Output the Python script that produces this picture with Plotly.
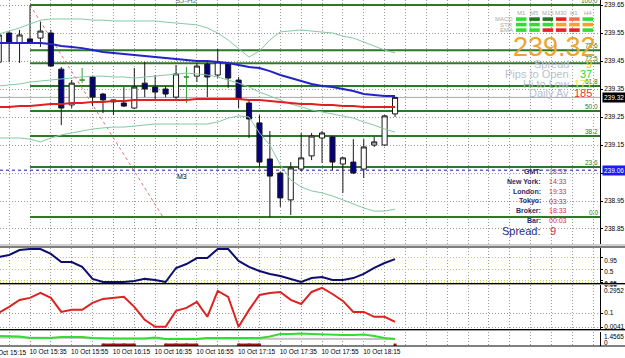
import pandas as pd
import plotly.graph_objects as go
from plotly.subplots import make_subplots

DAY = "2007-10-10 "

# ---------------- data ----------------
bar_times = ["15:20", "15:25", "15:30", "15:35", "15:40", "15:45", "15:50", "15:55",
             "16:00", "16:05", "16:10", "16:15", "16:20", "16:25", "16:30", "16:35",
             "16:40", "16:45", "16:50", "16:55", "17:00", "17:05", "17:10", "17:15",
             "17:20", "17:25", "17:30", "17:35", "17:40", "17:45", "17:50", "17:55",
             "18:00", "18:05", "18:10", "18:15", "18:20", "18:25", "18:30"]

open_ = [239.446, 239.550, 239.514, 239.529, 239.532, 239.550, 239.421, 239.293, 239.382, 239.393,
         239.332, 239.304, 239.300, 239.282, 239.371, 239.357, 239.350, 239.321, 239.393, 239.396,
         239.439, 239.400, 239.439, 239.382, 239.300, 239.229, 239.100, 239.050, 238.954, 239.064,
         239.111, 239.175, 239.179, 239.082, 239.089, 239.064, 239.150, 239.150, 239.261]
high = [239.550, 239.557, 239.561, 239.650, 239.589, 239.561, 239.429, 239.382, 239.425, 239.396,
        239.336, 239.311, 239.357, 239.425, 239.446, 239.400, 239.361, 239.436, 239.429, 239.443,
        239.446, 239.493, 239.443, 239.393, 239.311, 239.257, 239.200, 239.054, 239.089, 239.193,
        239.193, 239.200, 239.182, 239.107, 239.171, 239.171, 239.179, 239.257, 239.320]
low = [239.439, 239.446, 239.443, 239.514, 239.500, 239.429, 239.221, 239.282, 239.371, 239.289,
       239.264, 239.257, 239.286, 239.279, 239.321, 239.311, 239.321, 239.311, 239.300, 239.375,
       239.321, 239.389, 239.354, 239.282, 239.175, 239.071, 238.893, 238.929, 238.900, 239.057,
       239.096, 239.086, 239.061, 238.979, 239.046, 239.032, 239.143, 239.146, 239.250]
close = [239.543, 239.518, 239.543, 239.518, 239.557, 239.432, 239.282, 239.371, 239.382, 239.321,
         239.311, 239.311, 239.289, 239.357, 239.350, 239.339, 239.332, 239.404, 239.393, 239.432,
         239.393, 239.446, 239.389, 239.314, 239.243, 239.089, 239.039, 238.961, 239.068, 239.104,
         239.182, 239.193, 239.089, 239.104, 239.050, 239.143, 239.161, 239.254, 239.320]

ma_blue = [239.514, 239.514, 239.514, 239.514, 239.514, 239.511, 239.504, 239.500, 239.496, 239.489,
           239.482, 239.479, 239.475, 239.471, 239.468, 239.464, 239.461, 239.457, 239.454, 239.450,
           239.450, 239.446, 239.443, 239.436, 239.429, 239.425, 239.414, 239.400, 239.389, 239.379,
           239.368, 239.361, 239.357, 239.350, 239.343, 239.332, 239.329, 239.325, 239.325]
ma_red = [239.286, 239.286, 239.289, 239.289, 239.293, 239.296, 239.296, 239.300, 239.300, 239.304,
          239.304, 239.307, 239.307, 239.311, 239.311, 239.311, 239.311, 239.311, 239.311, 239.314,
          239.314, 239.314, 239.314, 239.314, 239.311, 239.311, 239.307, 239.304, 239.300, 239.296,
          239.296, 239.293, 239.293, 239.289, 239.289, 239.286, 239.286, 239.286, 239.286]
bb_upper = [239.546, 239.557, 239.568, 239.582, 239.596, 239.600, 239.600, 239.600, 239.600, 239.596,
            239.596, 239.593, 239.593, 239.593, 239.593, 239.593, 239.589, 239.586, 239.582, 239.579,
            239.568, 239.550, 239.525, 239.496, 239.464, 239.486, 239.525, 239.554, 239.557, 239.561,
            239.557, 239.554, 239.550, 239.539, 239.532, 239.518, 239.504, 239.489, 239.479]
bb_mid = [239.361, 239.364, 239.368, 239.375, 239.379, 239.382, 239.386, 239.389, 239.393, 239.396,
          239.396, 239.393, 239.393, 239.389, 239.393, 239.396, 239.400, 239.404, 239.407, 239.404,
          239.400, 239.393, 239.382, 239.371, 239.357, 239.339, 239.325, 239.311, 239.296, 239.286,
          239.275, 239.268, 239.261, 239.254, 239.246, 239.232, 239.221, 239.207, 239.196]
bb_lower = [239.175, 239.175, 239.175, 239.171, 239.161, 239.175, 239.186, 239.193, 239.200, 239.207,
            239.211, 239.214, 239.214, 239.218, 239.221, 239.225, 239.225, 239.225, 239.225, 239.225,
            239.225, 239.232, 239.246, 239.254, 239.250, 239.193, 239.150, 239.079, 239.025, 239.000,
            238.986, 238.979, 238.968, 238.954, 238.939, 238.925, 238.914, 238.914, 238.921]

osc_blue = [0.96, 1.04, 1.23, 1.27, 1.27, 1.08, 0.77, 0.77, 0.58, 0.12,
            0.00, 0.00, 0.00, 0.04, 0.12, 0.08, 0.00, 0.54, 0.69, 0.92,
            0.92, 1.27, 1.27, 0.81, 0.58, 0.42, 0.31, 0.23, 0.12, 0.00,
            0.15, 0.19, 0.08, 0.08, 0.15, 0.31, 0.54, 0.73, 0.88]
osc_red = [0.102, 0.144, 0.192, 0.206, 0.240, 0.206, 0.109, 0.123, 0.123, 0.171,
           0.199, 0.206, 0.213, 0.144, 0.054, 0.006, 0.006, 0.116, 0.137, 0.178,
           0.075, 0.254, 0.213, 0.006, 0.123, 0.226, 0.240, 0.247, 0.192, 0.164,
           0.247, 0.275, 0.233, 0.185, 0.109, 0.109, 0.075, 0.075, 0.040]
osc_green = [1.04, 1.04, 0.99, 0.83, 0.83, 0.83, 0.94, 0.94, 0.94, 0.83,
             0.78, 0.78, 0.78, 0.78, 0.78, 0.88, 0.73, 0.73, 0.73, 0.73,
             0.83, 0.83, 0.83, 0.83, 0.83, 0.83, 0.99, 1.25, 1.25, 1.30,
             1.25, 1.20, 1.14, 1.14, 1.14, 1.20, 1.04, 0.83, 0.73]
osc_gray = [0.88, 0.88, 0.88, 0.83, 0.83, 0.83, 0.83, 0.83, 0.83, 0.83,
            0.78, 0.78, 0.78, 0.78, 0.78, 0.78, 0.73, 0.73, 0.73, 0.73,
            0.78, 0.78, 0.78, 0.78, 0.78, 0.78, 0.73, 0.73, 0.73, 0.73,
            0.73, 0.73, 0.73, 0.73, 0.73, 0.73, 0.73, 0.73, 0.73]
osc_flag = [None, None, None, None, None, None, None, None, None, None,
            0.1, 0.1, 0.1, 0.1, None, None, 0.1, 0.1, 0.1, 0.1,
            None, None, None, 0.1, 0.1, 0.1, None, None, None, None,
            None, None, None, None, None, None, None, None, 0.1]

fib_low, fib_high = 238.893, 239.650
fib_levels = [0.0, 23.6, 38.2, 50.0, 61.8, 72.5, 78.6, 100.0]
fib_start, fib_trend_end = "15:35", "16:38:46"
bid_price = 239.32
marker_price, marker_label = 239.06, "M3"
y_ticks_main = [238.85, 238.95, 239.05, 239.15, 239.25, 239.35, 239.45, 239.55, 239.65]
p2_ticks, p2_text = [0.95, 0.5, 0.05, 0.0], ["0.95", "0.5", "0.05", "0.00"]
p3_ticks, p3_text = [0.1, 0.0041], ["0.1", "0.0041"]
p3_max_label, p4_max_label, p4_min_label = "0.2952", "1.4565", "0"

timeframes = ["M1", "M5", "M15", "M30", "H1", "H4"]
signal_rows = ["MACD", "STR", "EMA"]
LIME, DKG, RED, SAL, ORG = "#2ee02e", "#1f7a1f", "#e52222", "#f07050", "#f2a428"
signal_colors = [[LIME, DKG, DKG, RED, SAL, LIME],
                 [LIME, LIME, LIME, ORG, ORG, ORG],
                 [LIME, LIME, RED, RED, RED, LIME]]
big_price = "239.32"
stats_labels = ["Spread", "Pips to Open", "Hi to Low", "Daily Av"]
stats_values = ["9", "37", "171", "185"]
stats_colors = ["#e6c81e", "#2ed62e", "#e8e03a", "#e0401e"]
clock_labels = ["GMT:", "New York:", "London:", "Tokyo:", "Broker:", "Bar:"]
clock_values = ["18:33", "14:33", "19:33", "03:33", "18:33", "00:03"]
spread_label, spread_value = "Spread:", "9"
chart_title = "SJ-H2"

# ---------------- layout helpers ----------------
PW, PH = 600, 346          # plot area in px
FONT = "Liberation Sans"
AX = 6.5                   # axis label size
def fx(p): return p / PW
def fy(p): return (PH - p) / PH

X_RANGE = [DAY + "15:20:37", DAY + "20:08:15"]
x = [DAY + t for t in bar_times]
dates = pd.to_datetime(x)
grid_times = pd.date_range(DAY + "15:25", DAY + "20:05", freq="10min")
origin = pd.Timestamp(DAY + "15:15")
grid_text = [t.strftime("%d %b %H:%M") if ((t - origin).seconds // 60) % 20 == 0 and t <= dates[-1] else ""
             for t in grid_times]

fig = make_subplots(rows=4, cols=1, shared_xaxes=True, vertical_spacing=0)

doji = [o == c for o, c in zip(open_, close)]
def pick(arr, keep): return [v for v, k in zip(arr, keep) if k]
nd = [not d for d in doji]

for s in (bb_upper, bb_mid, bb_lower):
    fig.add_trace(go.Scatter(x=x, y=s, mode="lines", line=dict(color="#86c9a4", width=1),
                             hoverinfo="skip"), row=1, col=1)

fig.add_trace(go.Candlestick(
    x=pick(x, nd), open=pick(open_, nd), high=pick(high, nd), low=pick(low, nd), close=pick(close, nd),
    increasing=dict(line=dict(color="#1a1a1a", width=1), fillcolor="#ffffff"),
    decreasing=dict(line=dict(color="#1a1a1a", width=1), fillcolor="#000080"),
    whiskerwidth=0, hoverinfo="skip"), row=1, col=1)
fig.add_trace(go.Candlestick(
    x=pick(x, doji), open=pick(open_, doji), high=pick(high, doji), low=pick(low, doji), close=pick(close, doji),
    increasing=dict(line=dict(color="#3a9a3a", width=1), fillcolor="#3a9a3a"),
    decreasing=dict(line=dict(color="#3a9a3a", width=1), fillcolor="#3a9a3a"),
    whiskerwidth=0, hoverinfo="skip"), row=1, col=1)

fig.add_trace(go.Scatter(x=x, y=ma_red, mode="lines", line=dict(color="#e02020", width=2),
                         hoverinfo="skip"), row=1, col=1)
fig.add_trace(go.Scatter(x=x, y=ma_blue, mode="lines", line=dict(color="#2323c8", width=2),
                         hoverinfo="skip"), row=1, col=1)

fig.add_trace(go.Scatter(x=x, y=osc_blue, mode="lines", line=dict(color="#0e0e6e", width=2),
                         hoverinfo="skip"), row=2, col=1)
fig.add_trace(go.Scatter(x=x, y=osc_red, mode="lines", line=dict(color="#dd2222", width=2),
                         hoverinfo="skip"), row=3, col=1)
fig.add_trace(go.Scatter(x=x, y=osc_gray, mode="lines", line=dict(color="#c4c4c4", width=2),
                         hoverinfo="skip"), row=4, col=1)
fig.add_trace(go.Scatter(x=x, y=osc_green, mode="lines", line=dict(color="#33dd33", width=2),
                         hoverinfo="skip"), row=4, col=1)
fig.add_trace(go.Scatter(x=x, y=osc_flag, mode="lines+markers", line=dict(color="#a01414", width=3),
                         marker=dict(color="#a01414", size=3, symbol="square"),
                         hoverinfo="skip"), row=4, col=1)

GRID = "#9a9a9a"
DOT = "1px,2px"
for i in range(1, 5):
    fig.update_xaxes(row=i, col=1, range=X_RANGE, tickmode="array", tickvals=list(grid_times),
                     ticktext=grid_text, showgrid=True, gridcolor=GRID, griddash=DOT, gridwidth=1,
                     zeroline=False, showline=False, ticks="", rangeslider_visible=False,
                     showticklabels=(i == 4), tickfont=dict(family=FONT, size=AX, color="#000000"),
                     ticklabelshift=18, tickangle=0, automargin=False)

axis_common = dict(side="right", zeroline=False, showline=True, linecolor="#000000", linewidth=1,
                   ticks="outside", ticklen=2, tickcolor="#000000", automargin=False,
                   tickfont=dict(family=FONT, size=AX, color="#000000"))
fig.update_yaxes(row=1, col=1, domain=[fy(244), fy(0)], range=[238.7964, 239.6679], tickmode="array",
                 tickvals=y_ticks_main, ticktext=[f"{v:.2f}" for v in y_ticks_main],
                 showgrid=True, gridcolor=GRID, griddash=DOT, **axis_common)
fig.update_yaxes(row=2, col=1, domain=[fy(283), fy(248)], range=[-0.0385, 1.3077], tickmode="array",
                 tickvals=p2_ticks, ticktext=p2_text, showgrid=True, gridcolor="#c8c86a",
                 griddash=DOT, ticklabelshift=3, **axis_common)
fig.update_yaxes(row=3, col=1, domain=[fy(329), fy(285)], range=[-0.0096, 0.2952], tickmode="array",
                 tickvals=p3_ticks, ticktext=p3_text, showgrid=True, gridcolor=GRID,
                 griddash=DOT, **axis_common)
fig.update_yaxes(row=4, col=1, domain=[fy(346), fy(332)], range=[0, 1.4565], tickmode="array",
                 tickvals=[], showgrid=False, **axis_common)

shapes = []
span = fib_high - fib_low
for lv in fib_levels:
    p = fib_low + lv / 100 * span
    shapes.append(dict(type="line", xref="x", yref="y", x0=DAY + fib_start, x1=X_RANGE[1], y0=p, y1=p,
                       line=dict(color="#2a7a2a", width=2), layer="between"))
shapes.append(dict(type="line", xref="x", yref="y", x0=DAY + fib_start, x1=DAY + fib_trend_end,
                   y0=fib_high, y1=fib_low, line=dict(color="#e07070", width=1, dash="dot"), layer="between"))
shapes.append(dict(type="line", xref="x", yref="y", x0=X_RANGE[0], x1=X_RANGE[1], y0=bid_price, y1=bid_price,
                   line=dict(color="#a8a8a8", width=1), layer="between"))
shapes.append(dict(type="line", xref="x", yref="y", x0=X_RANGE[0], x1=X_RANGE[1], y0=marker_price,
                   y1=marker_price, line=dict(color="#1a1aa0", width=1, dash="dot"), layer="between"))
for yp, col in [(245, "#a0a0a0"), (247, "#000000"), (283.5, "#000000"), (284.5, "#a0a0a0"),
                (329.5, "#000000"), (330.5, "#a0a0a0"), (346, "#000000")]:
    shapes.append(dict(type="line", xref="paper", yref="paper", x0=0, x1=625 / PW, y0=fy(yp), y1=fy(yp),
                       line=dict(color=col, width=1)))
for r, row_cols in enumerate(signal_colors):
    for c, colr in enumerate(row_cols):
        x0 = 516 + c * 13.3
        y0 = 17.3 + r * 5.5
        shapes.append(dict(type="rect", xref="paper", yref="paper", x0=fx(x0), x1=fx(x0 + 10.5),
                           y0=fy(y0 + 3.6), y1=fy(y0), line=dict(width=0), fillcolor=colr))

ann = []
def text(s, xp, yp, size=7, color="#000000", xanchor="center", yanchor="middle", bold=False):
    ann.append(dict(text=f"<b>{s}</b>" if bold else s, xref="paper", yref="paper", x=fx(xp), y=fy(yp),
                    xanchor=xanchor, yanchor=yanchor, showarrow=False,
                    font=dict(family=FONT, size=size, color=color), borderpad=0))

for lv in fib_levels:
    p = fib_low + lv / 100 * span
    ann.append(dict(text=f"{lv:.1f}", xref="paper", yref="y", x=fx(599), y=p, xanchor="right",
                    yanchor="bottom", showarrow=False, borderpad=0,
                    font=dict(family=FONT, size=AX, color="#2a7a2a")))
ann.append(dict(text=marker_label, xref="x", yref="y", x=DAY + "16:48", y=marker_price, xanchor="center",
                yanchor="top", yshift=-1, showarrow=False, font=dict(family=FONT, size=7, color="#000000")))
text(chart_title, 186, 0, size=8, color="#707070")

for c, tf in enumerate(timeframes):
    text(tf, 516 + c * 13.3 + 5.2, 12.5, size=6, color="#a8a8a8")
for r, nm in enumerate(signal_rows):
    text(nm, 514, 19 + r * 5.5, size=6, color="#a8a8a8", xanchor="right")

text(big_price, 554, 47, size=27, color="#eca431")
for i, (lab, val, colr) in enumerate(zip(stats_labels, stats_values, stats_colors)):
    yp = 64 + i * 9.8
    text(lab, 570, yp, size=11, color="#b6bfd0", xanchor="right")
    text(val, 593, yp, size=11, color=colr, xanchor="right")

for i, (lab, val) in enumerate(zip(clock_labels, clock_values)):
    yp = 171.7 + i * 9.8 if i < 5 else 220.5
    text(lab, 542, yp, size=7, color="#2b2b6b", xanchor="right", bold=True)
    text(val, 548, yp, size=7, color="#c83050", xanchor="left")
text(spread_label, 542, 231, size=11, color="#2b2b8b", xanchor="right")
text(spread_value, 549, 231, size=11, color="#d03050", xanchor="left")

ann.append(dict(text=f"{bid_price:.2f}", xref="paper", yref="y", x=fx(602), y=bid_price, xanchor="left",
                yanchor="middle", showarrow=False, bgcolor="#000000", borderpad=1,
                font=dict(family=FONT, size=AX, color="#ffffff")))
ann.append(dict(text=f"{marker_price:.2f}", xref="paper", yref="y", x=fx(602), y=marker_price,
                xanchor="left", yanchor="middle", showarrow=False, bgcolor="#1a1aff", borderpad=1,
                font=dict(family=FONT, size=AX, color="#ffffff")))
text(p3_max_label, 603, 290, size=AX, xanchor="left")
text(p4_max_label, 603, 336, size=AX, xanchor="left")
text(p4_min_label, 603, 342.5, size=AX, xanchor="left")
text("10 Oct 15:15", -11.7, 352, size=AX, xanchor="left")

fig.update_layout(width=625, height=358, margin=dict(l=0, r=25, t=0, b=12, autoexpand=False),
                  paper_bgcolor="#ffffff", plot_bgcolor="#ffffff", showlegend=False,
                  shapes=shapes, annotations=ann)
fig.write_html("out.html")
